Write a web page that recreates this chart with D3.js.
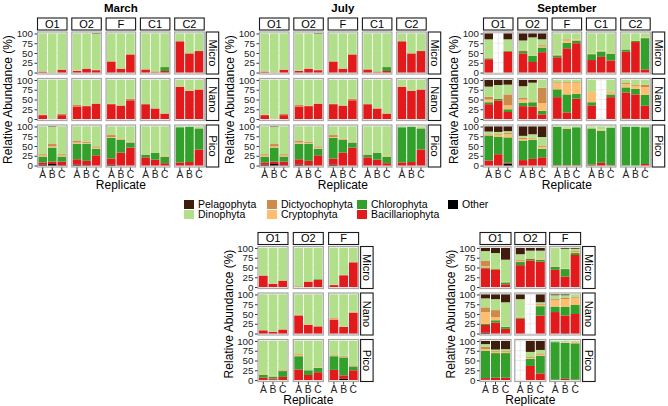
<!DOCTYPE html>
<html><head><meta charset="utf-8">
<script src="https://cdn.jsdelivr.net/npm/d3@7"></script>
<style>body{margin:0;background:#fff}svg{display:block;font-family:"Liberation Sans",Arial,sans-serif}</style>
</head><body><svg id="c" width="668" height="406"></svg>
<script>
// stacking order bottom -> top
const groups = ["Other","Bacillariophyta","Chlorophyta","Cryptophyta","Dictyochophyta","Dinophyta","Pelagophyta"];
const groupColors = ["#000000","#e31a1c","#33a02c","#fdbf6f","#cd8a4a","#b2df8a","#3f1c0b"];
const legendOrder = ["Pelagophyta","Dinophyta","Dictyochophyta","Cryptophyta","Chlorophyta","Bacillariophyta","Other"];
const sizes = ["Micro","Nano","Pico"];
const reps = ["A","B","C"];
const sitesFive = ["O1","O2","F","C1","C2"];
const sitesThree = ["O1","O2","F"];
const yTicks = [0,25,50,75,100];
const yTickLabels = ["0","25","50","75","100"];

// rows: size, site, replicate, Other, Bacillariophyta, Chlorophyta, Cryptophyta, Dictyochophyta, Dinophyta, Pelagophyta
const marchData = [
["Micro","O1","A",0,2,0,0,1,97,0],["Micro","O1","B",0,0,0,0,1,99,0],["Micro","O1","C",0,7,0,0,1,92,0],
["Micro","O2","A",0,4,0,0,1,95,0],["Micro","O2","B",0,10,0,0,0,90,0],["Micro","O2","C",0,6,0,0,1,92,1],
["Micro","F","A",0,27,0,0,2,71,0],["Micro","F","B",0,10,0,0,0,90,0],["Micro","F","C",0,46,0,0,1,53,0],
["Micro","C1","A",0,8,0,0,0,92,0],["Micro","C1","B",0,1,0,0,2,97,0],["Micro","C1","C",0,4,10,0,0,86,0],
["Micro","C2","A",0,80,0,0,0,20,0],["Micro","C2","B",0,49,0,0,0,51,0],["Micro","C2","C",0,55,0,0,0,45,0],
["Nano","O1","A",0,10,0,0,1,89,0],["Nano","O1","B",0,0,0,0,1,99,0],["Nano","O1","C",0,10,0,0,3,87,0],
["Nano","O2","A",0,32,0,0,4,64,0],["Nano","O2","B",0,33,0,0,1,66,0],["Nano","O2","C",0,39,0,0,1,60,0],
["Nano","F","A",0,38,0,0,1,61,0],["Nano","F","B",0,34,0,0,1,65,0],["Nano","F","C",0,48,0,0,4,48,0],
["Nano","C1","A",0,38,0,0,0,62,0],["Nano","C1","B",0,27,0,0,0,73,0],["Nano","C1","C",0,14,0,0,0,86,0],
["Nano","C2","A",0,82,0,1,1,16,0],["Nano","C2","B",0,72,0,0,1,27,0],["Nano","C2","C",0,75,0,0,1,24,0],
["Pico","O1","A",2,6,15,3,3,71,0],["Pico","O1","B",4,6,36,3,6,44,1],["Pico","O1","C",1,9,13,3,3,71,0],
["Pico","O2","A",2,14,40,3,5,36,0],["Pico","O2","B",1,11,44,2,3,39,0],["Pico","O2","C",0,26,17,3,3,51,0],
["Pico","F","A",2,16,53,2,5,22,0],["Pico","F","B",0,33,33,1,2,31,0],["Pico","F","C",0,46,12,1,2,39,0],
["Pico","C1","A",0,21,7,1,0,71,0],["Pico","C1","B",0,15,18,1,0,66,0],["Pico","C1","C",0,6,16,2,1,75,0],
["Pico","C2","A",0,8,90,0,0,2,0],["Pico","C2","B",0,9,90,0,0,1,0],["Pico","C2","C",0,41,54,1,1,3,0]
];
const julyData = [
["Micro","O1","A",0,2,0,0,1,97,0],["Micro","O1","B",0,0,0,0,1,99,0],["Micro","O1","C",0,7,0,0,1,92,0],
["Micro","O2","A",0,4,0,0,1,95,0],["Micro","O2","B",0,10,0,0,0,90,0],["Micro","O2","C",0,6,0,0,1,92,1],
["Micro","F","A",0,27,0,0,2,71,0],["Micro","F","B",0,10,0,0,0,90,0],["Micro","F","C",0,46,0,0,1,53,0],
["Micro","C1","A",0,8,0,0,0,92,0],["Micro","C1","B",0,1,0,0,2,97,0],["Micro","C1","C",0,4,10,0,0,86,0],
["Micro","C2","A",0,80,0,0,0,20,0],["Micro","C2","B",0,49,0,0,0,51,0],["Micro","C2","C",0,55,0,0,0,45,0],
["Nano","O1","A",0,10,0,0,1,89,0],["Nano","O1","B",0,0,0,0,1,99,0],["Nano","O1","C",0,10,0,0,3,87,0],
["Nano","O2","A",0,32,0,0,4,64,0],["Nano","O2","B",0,33,0,0,1,66,0],["Nano","O2","C",0,39,0,0,1,60,0],
["Nano","F","A",0,38,0,0,1,61,0],["Nano","F","B",0,34,0,0,1,65,0],["Nano","F","C",0,48,0,0,4,48,0],
["Nano","C1","A",0,38,0,0,0,62,0],["Nano","C1","B",0,27,0,0,0,73,0],["Nano","C1","C",0,14,0,0,0,86,0],
["Nano","C2","A",0,82,0,1,1,16,0],["Nano","C2","B",0,72,0,0,1,27,0],["Nano","C2","C",0,75,0,0,1,24,0],
["Pico","O1","A",2,6,15,3,3,71,0],["Pico","O1","B",4,6,36,3,6,44,1],["Pico","O1","C",1,9,13,3,3,71,0],
["Pico","O2","A",2,14,40,3,5,36,0],["Pico","O2","B",1,11,44,2,3,39,0],["Pico","O2","C",0,26,17,3,3,51,0],
["Pico","F","A",2,16,53,2,5,22,0],["Pico","F","B",0,33,33,1,2,31,0],["Pico","F","C",0,46,12,1,2,39,0],
["Pico","C1","A",0,21,7,1,0,71,0],["Pico","C1","B",0,15,18,1,0,66,0],["Pico","C1","C",0,6,16,2,1,75,0],
["Pico","C2","A",0,8,90,0,0,2,0],["Pico","C2","B",0,9,90,0,0,1,0],["Pico","C2","C",0,41,54,1,1,3,0]
];
const septemberData = [
["Micro","O1","A",0,34,2,0,2,47,15],["Micro","O1","C",0,53,2,1,1,28,15],
["Micro","O2","A",0,49,6,2,1,24,18],["Micro","O2","B",0,27,16,0,0,47,10],["Micro","O2","C",0,52,12,3,3,15,15],
["Micro","F","A",0,39,5,2,0,54,0],["Micro","F","B",0,62,14,6,3,15,0],["Micro","F","C",0,75,7,3,0,15,0],
["Micro","C1","A",0,32,15,2,0,51,0],["Micro","C1","B",0,40,14,2,0,44,0],["Micro","C1","C",0,31,17,2,0,50,0],
["Micro","C2","A",0,53,6,1,0,40,0],["Micro","C2","B",0,78,3,2,0,17,0],["Micro","C2","C",0,8,80,2,0,10,0],
["Nano","O1","A",1,37,5,7,7,26,17],["Nano","O1","B",0,47,5,2,0,33,13],["Nano","O1","C",0,18,7,10,28,25,12],
["Nano","O2","A",0,33,9,8,4,30,16],["Nano","O2","B",0,32,11,3,0,47,7],["Nano","O2","C",0,12,9,20,39,20,0],
["Nano","F","A",1,55,20,16,2,6,0],["Nano","F","B",0,17,46,30,2,5,0],["Nano","F","C",0,52,12,28,2,6,0],
["Nano","C1","A",0,35,8,26,1,30,0],["Nano","C1","C",0,56,7,5,2,30,0],
["Nano","C2","A",1,67,13,8,3,8,0],["Nano","C2","B",0,63,14,8,3,12,0],["Nano","C2","C",0,34,28,20,6,12,0],
["Pico","O1","A",0,13,64,3,2,5,13],["Pico","O1","B",0,29,44,5,2,6,14],["Pico","O1","C",5,2,65,8,3,5,12],
["Pico","O2","A",0,14,50,4,3,5,24],["Pico","O2","B",0,17,49,3,2,9,20],["Pico","O2","C",0,21,22,5,3,22,27],
["Pico","F","A",0,1,98,0,0,1,0],["Pico","F","B",0,1,93,3,0,3,0],["Pico","F","C",0,1,97,0,0,2,0],
["Pico","C1","A",0,2,93,2,0,3,0],["Pico","C1","B",0,7,82,3,0,8,0],["Pico","C1","C",0,1,96,0,0,3,0],
["Pico","C2","A",0,0,99,0,0,1,0],["Pico","C2","B",0,0,99,0,0,1,0],["Pico","C2","C",0,4,94,0,0,2,0]
];
const lowerLeftData = [
["Micro","O1","A",0,29,0,0,1,70,0],["Micro","O1","B",0,8,0,0,1,91,0],["Micro","O1","C",0,16,0,0,1,83,0],
["Micro","O2","A",0,1,0,0,1,98,0],["Micro","O2","B",0,14,0,0,0,86,0],["Micro","O2","C",0,18,2,0,0,80,0],
["Micro","F","A",0,5,0,0,1,94,0],["Micro","F","B",0,30,0,0,1,69,0],["Micro","F","C",0,63,0,0,2,35,0],
["Nano","O1","A",0,8,0,0,1,91,0],["Nano","O1","B",0,4,0,0,1,95,0],["Nano","O1","C",0,10,0,0,1,89,0],
["Nano","O2","A",0,46,0,0,2,52,0],["Nano","O2","B",0,22,0,0,1,77,0],["Nano","O2","C",0,18,0,0,1,81,0],
["Nano","F","A",0,36,0,2,2,60,0],["Nano","F","B",0,17,0,0,0,83,0],["Nano","F","C",0,53,0,1,2,44,0],
["Pico","O1","A",0,6,7,2,1,84,0],["Pico","O1","B",1,3,5,2,0,89,0],["Pico","O1","C",0,8,15,2,2,73,0],
["Pico","O2","A",0,27,34,3,2,34,0],["Pico","O2","B",0,13,12,0,0,75,0],["Pico","O2","C",0,20,11,2,0,67,0],
["Pico","F","A",0,26,35,2,1,36,0],["Pico","F","B",3,9,46,2,2,38,0],["Pico","F","C",0,25,10,2,1,62,0]
];
const lowerRightData = [
["Micro","O1","A",0,48,2,3,14,25,8],["Micro","O1","B",0,44,2,3,0,38,13],["Micro","O1","C",0,7,5,2,0,56,30],
["Micro","O2","A",0,56,8,3,2,15,16],["Micro","O2","B",0,68,4,2,1,18,7],["Micro","O2","C",0,65,5,2,1,20,7],
["Micro","F","A",0,44,8,2,0,46,0],["Micro","F","B",0,27,19,1,0,51,2],["Micro","F","C",0,82,5,3,2,6,2],
["Nano","O1","A",2,20,3,30,12,23,10],["Nano","O1","B",0,28,6,8,18,28,12],["Nano","O1","C",0,12,5,1,0,62,20],
["Nano","O2","A",0,38,3,2,0,45,12],["Nano","O2","C",0,46,24,3,2,5,20],
["Nano","F","A",0,55,14,16,3,10,2],["Nano","F","B",1,45,22,20,3,7,2],["Nano","F","C",0,50,23,18,2,7,0],
["Pico","O1","A",1,4,70,4,6,7,8],["Pico","O1","B",0,6,63,3,2,4,22],["Pico","O1","C",0,6,63,3,2,5,21],
["Pico","O2","B",0,36,18,3,2,13,28],["Pico","O2","C",0,17,45,3,3,9,23],
["Pico","F","A",0,1,96,0,0,3,0],["Pico","F","B",0,3,92,1,0,4,0],["Pico","F","C",0,1,93,4,0,2,0]
];

const blocks = [
  {title:"March", data:marchData, sites:sitesFive, x0:37, pitch:34.3, pw:30.5, top:31.5},
  {title:"July", data:julyData, sites:sitesFive, x0:259, pitch:34.3, pw:30.5, top:31.5},
  {title:"September", data:septemberData, sites:sitesFive, x0:483, pitch:34.3, pw:30.5, top:31.5},
  {title:"", data:lowerLeftData, sites:sitesThree, x0:257.5, pitch:35.3, pw:31, top:246},
  {title:"", data:lowerRightData, sites:sitesThree, x0:479.5, pitch:34.8, pw:32, top:246}
];
const PH = 43, VP = 46.5;
const color = d3.scaleOrdinal().domain(groups).range(groupColors);
const svg = d3.select("#c");
const FONT = "'Liberation Sans', Arial, sans-serif";

blocks.forEach(b => {
  const g = svg.append("g");
  const x = d3.scaleBand().domain(reps).range([0, b.pw]).paddingInner(0.1).paddingOuter(0.15);
  const y = d3.scaleLinear().domain([-5, 105]).range([PH, 0]);
  const rows = b.data.map(r => {
    const o = {size:r[0], site:r[1], rep:r[2]};
    groups.forEach((k,i) => o[k] = r[3+i]);
    return o;
  });
  const stack = d3.stack().keys(groups);
  const right = b.x0 + (b.sites.length-1)*b.pitch + b.pw;

  if (b.title) {
    g.append("text").attr("x", (b.x0+right)/2).attr("y", 12).attr("text-anchor","middle")
      .attr("font-weight","bold").attr("font-size",11.5).attr("font-family",FONT).text(b.title);
  }
  b.sites.forEach((s,i) => {
    const px = b.x0 + i*b.pitch;
    g.append("rect").attr("x",px+0.5).attr("y",b.top-13.5).attr("width",b.pw-1).attr("height",12)
      .attr("fill","#fff").attr("stroke","#1a1a1a").attr("stroke-width",1.1);
    g.append("text").attr("x",px+b.pw/2).attr("y",b.top-3.6).attr("text-anchor","middle")
      .attr("font-size",11).attr("font-family",FONT).text(s);
  });

  sizes.forEach((sz,j) => {
    const py = b.top + j*VP;
    g.append("rect").attr("x",right+1.5).attr("y",py+0.5).attr("width",12.5).attr("height",PH-1)
      .attr("fill","#fff").attr("stroke","#1a1a1a").attr("stroke-width",1.1);
    g.append("text").attr("transform",`translate(${right+4.2},${py+PH/2}) rotate(90)`)
      .attr("text-anchor","middle").attr("font-size",11).attr("font-family",FONT).text(sz);

    b.sites.forEach((s,i) => {
      const px = b.x0 + i*b.pitch;
      const pg = g.append("g").attr("transform",`translate(${px},${py})`);
      pg.append("rect").attr("width",b.pw).attr("height",PH).attr("fill","#fff");
      [12.5,37.5,62.5,87.5].forEach(v => pg.append("line").attr("x1",0).attr("x2",b.pw)
        .attr("y1",y(v)).attr("y2",y(v)).attr("stroke","#f2f2f2").attr("stroke-width",0.5));
      yTicks.forEach(v => pg.append("line").attr("x1",0).attr("x2",b.pw)
        .attr("y1",y(v)).attr("y2",y(v)).attr("stroke","#e6e6e6").attr("stroke-width",0.8));
      reps.forEach(r => pg.append("line").attr("x1",x(r)+x.bandwidth()/2).attr("x2",x(r)+x.bandwidth()/2)
        .attr("y1",0).attr("y2",PH).attr("stroke","#e6e6e6").attr("stroke-width",0.8));
      const sub = rows.filter(d => d.size===sz && d.site===s);
      const series = stack(sub);
      pg.selectAll("g.s").data(series).join("g").attr("fill", d => color(d.key))
        .selectAll("rect").data(d => d).join("rect")
        .attr("x", d => x(d.data.rep)).attr("width", x.bandwidth())
        .attr("y", d => y(d[1])).attr("height", d => Math.max(0, y(d[0]) - y(d[1])));
      pg.append("rect").attr("x",0.5).attr("y",0.5).attr("width",b.pw-1).attr("height",PH-1)
        .attr("fill","none").attr("stroke","#a6a6a6").attr("stroke-width",1.2);
      if (i === 0) {
        const ax = pg.append("g").call(d3.axisLeft(y).tickValues(yTicks).tickFormat((d,k)=>yTickLabels[k]).tickSize(2.5).tickPadding(1.5));
        ax.select(".domain").remove();
        ax.selectAll("line").attr("stroke","#333");
        ax.selectAll("text").attr("font-size",9.8).attr("font-family",FONT).attr("fill","#222");
      }
      if (j === 2) {
        const ax = pg.append("g").attr("transform",`translate(0,${PH})`)
          .call(d3.axisBottom(x).tickSize(2.5).tickPadding(1));
        ax.select(".domain").remove();
        ax.selectAll("line").attr("stroke","#333");
        ax.selectAll("text").attr("font-size",10.3).attr("font-family",FONT).attr("fill","#222");
      }
    });
  });
  const bottom = b.top + 2*VP + PH;
  g.append("text").attr("x",(b.x0+right)/2).attr("y",bottom+21.5).attr("text-anchor","middle")
    .attr("font-size",12).attr("font-family",FONT).text("Replicate");
  g.append("text").attr("transform",`translate(${b.x0-25},${(b.top+bottom)/2}) rotate(-90)`)
    .attr("text-anchor","middle").attr("font-size",12).attr("font-family",FONT).text("Relative Abundance (%)");
});

const legX = [184, 267, 357, 448];
const legY = [200, 210];
const lg = svg.append("g");
legendOrder.forEach((k,i) => {
  const c = Math.floor(i/2), r = i%2;
  lg.append("rect").attr("x",legX[c]).attr("y",legY[r]).attr("width",10).attr("height",9).attr("fill",color(k));
  lg.append("text").attr("x",legX[c]+14).attr("y",legY[r]+8).attr("font-size",10.5).attr("font-family",FONT).text(k);
});
</script></body></html>
